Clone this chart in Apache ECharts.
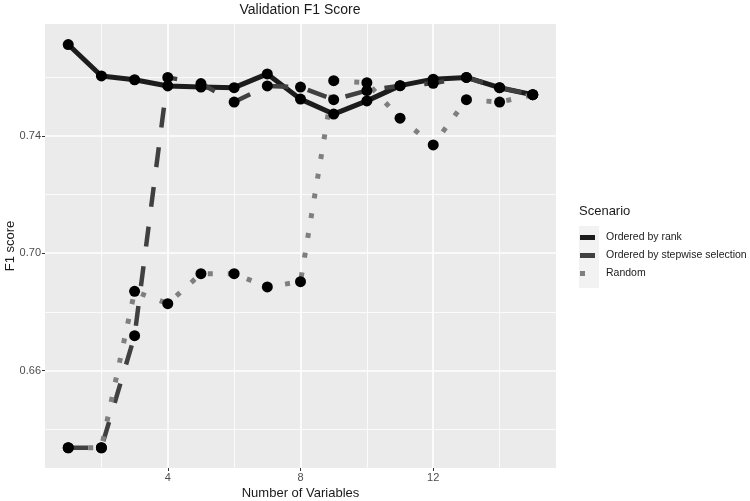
<!DOCTYPE html>
<html>
<head>
<meta charset="utf-8">
<script src="https://cdn.jsdelivr.net/npm/echarts@6/dist/echarts.min.js"></script>
<style>
html,body{margin:0;padding:0;background:#fff;}
#chart{width:750px;height:501px;}
</style>
</head>
<body>
<div id="chart"></div>
<script>
// ---- data ----
const numVars = [1,2,3,4,5,6,7,8,9,10,11,12,13,14,15];
const rankF1 = [0.7711,0.7604,0.7591,0.7570,0.7566,0.7564,0.7611,0.7525,0.7474,0.7519,0.7571,0.7593,0.7599,0.7564,0.7540];
const stepwiseF1 = [0.6337,0.6337,0.6719,0.7599,0.7578,0.7515,0.7570,0.7566,0.7523,0.7554,0.7571,0.7579,0.7599,0.7564,0.7540];
const randomF1 = [0.6337,0.6337,0.6870,0.6828,0.6930,0.6930,0.6885,0.6903,0.7588,0.7581,0.7460,0.7369,0.7523,0.7515,0.7540];
const seriesNames = ['Ordered by rank','Ordered by stepwise selection','Random'];
const xMajor = [4,8,12];
const xMinor = [2,6,10,14];
const yMajor = [0.66,0.70,0.74];
const yMinor = [0.64,0.68,0.72,0.76];

const pairs = arr => numVars.map((x,i)=>[x,arr[i]]);
const FONT = 'Liberation Sans, Arial, sans-serif';

const chart = echarts.init(document.getElementById('chart'));
const lineColors = ['#1c1c1c','#404040','#7f7f7f'];
const dashes = ['solid',[20,20],[5,15]];
const widths = [5,4.5,5];
const datasets = [rankF1, stepwiseF1, randomF1];

const dataSeries = seriesNames.map((name,i)=>({
  name: name,
  type: 'line',
  data: pairs(datasets[i]),
  z: 3,
  symbol: 'circle',
  symbolSize: 11,
  showSymbol: true,
  silent: true,
  itemStyle: {color: '#000', borderWidth: 0},
  lineStyle: {color: lineColors[i], width: widths[i], type: dashes[i], cap: 'butt', join: 'round'},
  animation: false
}));

const gridSeries = [
  {
    type: 'line', data: [], silent: true, z: 1,
    markLine: {
      silent: true, symbol: ['none','none'], label: {show: false}, animation: false, z: 1,
      lineStyle: {color: '#ffffff', width: 0.8, type: 'solid'},
      emphasis: {disabled: true},
      data: xMinor.map(v=>({xAxis: v})).concat(yMinor.map(v=>({yAxis: v})))
    }
  },
  {
    type: 'line', data: [], silent: true, z: 1,
    markLine: {
      silent: true, symbol: ['none','none'], label: {show: false}, animation: false, z: 1,
      lineStyle: {color: '#ffffff', width: 1.6, type: 'solid'},
      emphasis: {disabled: true},
      data: xMajor.map(v=>({xAxis: v})).concat(yMajor.map(v=>({yAxis: v})))
    }
  }
];

chart.setOption({
  animation: false,
  backgroundColor: '#ffffff',
  textStyle: {fontFamily: FONT},
  title: [
    {text: 'Validation F1 Score', left: 300, top: 3, textAlign: 'center', padding: 0,
     textStyle: {fontSize: 14, fontWeight: 'normal', color: '#1a1a1a', fontFamily: FONT}},
    {text: 'Scenario', left: 579, top: 205, padding: 0,
     textStyle: {fontSize: 13, fontWeight: 'normal', color: '#1a1a1a', fontFamily: FONT}}
  ],
  graphic: [
    {type: 'rect', left: 579, top: 226, shape: {width: 20, height: 62}, style: {fill: '#f2f2f2'}, z: -1, silent: true}
  ],
  legend: {
    orient: 'vertical',
    left: 580, top: 232,
    itemWidth: 15, itemHeight: 5, itemGap: 7,
    padding: 0,
    selectedMode: false,
    textStyle: {fontSize: 10.5, color: '#1a1a1a', fontFamily: FONT, padding: [0,0,0,6]},
    data: [
      {name: seriesNames[0], icon: 'rect', itemStyle: {color: '#1c1c1c', borderWidth: 0}},
      {name: seriesNames[1], icon: 'rect', itemStyle: {color: '#404040', borderWidth: 0}},
      {name: seriesNames[2], icon: 'path://M0,0h5v5h-5zM15,0h0.01v0.01h-0.01z', itemStyle: {color: '#7f7f7f', borderWidth: 0}}
    ]
  },
  grid: {left: 45, right: 194, top: 24, bottom: 33, show: true, backgroundColor: '#ebebeb', borderWidth: 0,
         containLabel: false, outerBoundsMode: 'none'},
  xAxis: {
    type: 'value', min: 0.3, max: 15.7,
    name: 'Number of Variables', nameLocation: 'middle', nameGap: 19, nameMoveOverlap: false,
    nameTextStyle: {fontSize: 13, color: '#1a1a1a', fontFamily: FONT},
    axisLine: {show: false},
    axisTick: {show: true, length: 3, customValues: xMajor, lineStyle: {color: '#333333', width: 1}},
    axisLabel: {customValues: xMajor, margin: 4, fontSize: 11, color: '#4d4d4d', fontFamily: FONT},
    splitLine: {show: false}
  },
  yAxis: {
    type: 'value', min: 0.6268, max: 0.7781,
    name: 'F1 score', nameLocation: 'middle', nameGap: 28, nameRotate: 90, nameMoveOverlap: false,
    nameTextStyle: {fontSize: 13, color: '#1a1a1a', fontFamily: FONT},
    axisLine: {show: false},
    axisTick: {show: true, length: 3, customValues: yMajor, lineStyle: {color: '#333333', width: 1}},
    axisLabel: {customValues: yMajor, margin: 4, fontSize: 11, color: '#4d4d4d', fontFamily: FONT,
      formatter: v => v.toFixed(2)},
    splitLine: {show: false}
  },
  series: gridSeries.concat(dataSeries)
});
</script>
</body>
</html>
